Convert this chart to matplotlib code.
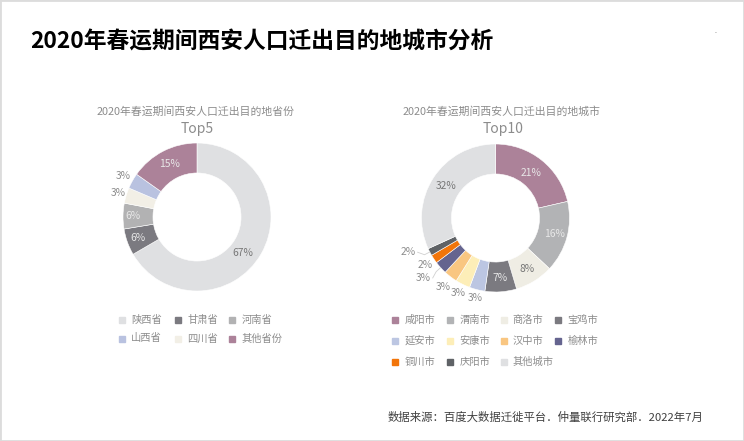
import matplotlib
matplotlib.use('Agg')
import numpy as np
import matplotlib.pyplot as plt
from matplotlib.patches import Rectangle

plt.rcParams['font.family'] = ['Noto Sans CJK SC', 'DejaVu Sans']

W, H = 744, 441

prov_names = ['陕西省', '甘肃省', '河南省', '山西省', '四川省', '其他省份']
prov_vals = [66.6, 5.8, 5.6, 3.4, 3.4, 15.2]
prov_colors = ['#dfe0e2', '#7b7a80', '#b2b2b3', '#b9c2e0', '#f2efe6', '#ac8299']
prov_pie_order = [0, 1, 2, 4, 3, 5]

city_names = ['咸阳市', '渭南市', '商洛市', '宝鸡市', '延安市', '安康市',
              '汉中市', '榆林市', '铜川市', '庆阳市', '其他城市']
city_vals = [21.4, 15.6, 8.4, 6.9, 3.4, 3.2, 3.0, 2.8, 1.9, 1.6, 31.8]
city_colors = ['#ac8299', '#b2b3b5', '#efede4', '#7b7a80', '#bcc6e2', '#fdeeb8',
               '#f9c681', '#65648f', '#f2750a', '#5f6266', '#dfe0e2']

GREY = '#8c8c8c'
LIGHT = '#e8e8e8'
R = 74.0
HALF = 100.0


def donut(cx, cy, vals, colors, label_r, label_shift, label_colors, leaders=()):
    # axes is placed in pixels, one data unit = R pixels
    ax = fig.add_axes([(cx - HALF) / W, 1 - (cy + HALF) / H, 2 * HALF / W, 2 * HALF / H])
    wedges, _ = ax.pie(vals, colors=colors, startangle=90, counterclock=False, radius=1,
                       wedgeprops=dict(width=0.405, edgecolor='white', linewidth=0.4))
    ax.set_xlim(-HALF / R, HALF / R)
    ax.set_ylim(-HALF / R, HALF / R)
    ax.axis('off')
    for i, (w, v) in enumerate(zip(wedges, vals)):
        mid = (w.theta1 + w.theta2) / 2
        a = np.deg2rad(mid - label_shift[i])
        x, y = label_r[i] * np.cos(a), label_r[i] * np.sin(a)
        ax.text(x, y, '%d%%' % round(v), color=label_colors[i], fontsize=7.4,
                ha='center', va='center', clip_on=False)
        if i in leaders:
            m = np.deg2rad(mid)
            ax.plot([np.cos(m), 1.08 * np.cos(m), x + 0.13],
                    [np.sin(m), 1.08 * np.sin(m), y],
                    color='#d0d0d0', lw=0.6, clip_on=False)
    return wedges


def legend(names, colors, xs, ys):
    # grid of square marker + name, filled row by row
    for i, (name, c) in enumerate(zip(names, colors)):
        x = xs[i % len(xs)]
        y = ys[i // len(xs)]
        over.plot([x], [y], ls='', marker='s', ms=4.0, color=c)
        over.text(x + 9.3, y, name, fontsize=7.4, color=GREY, ha='left', va='center')


fig = plt.figure(figsize=(W / 100, H / 100), dpi=100, facecolor='white')

over = fig.add_axes([0, 0, 1, 1])
over.set_xlim(0, W)
over.set_ylim(H, 0)
over.axis('off')

# Left donut
donut(197, 217, [prov_vals[i] for i in prov_pie_order], [prov_colors[i] for i in prov_pie_order],
      [0.79, 0.85, 0.865, 1.116, 1.136, 0.81],
      [8, 0, 0, 0, 0, 0],
      ['#777777', LIGHT, LIGHT, GREY, GREY, LIGHT])
legend(prov_names, prov_colors, [122, 178, 232], [320, 338.5])

# Right donut
donut(495.5, 218, city_vals, city_colors,
      [0.77, 0.83, 0.81, 0.81, 1.116, 1.127, 1.17, 1.27, 1.136, 1.27, 0.8],
      [0, 0, 0, 0, 0, 0, 0, 2.5, 0, 6, 0],
      [LIGHT, LIGHT, '#777777', LIGHT, GREY, GREY, GREY, GREY, GREY, GREY, '#777777'],
      leaders=(7, 9))
legend(city_names, city_colors, [395, 450, 503.5, 558], [320, 341, 362])

# Titles and source
over.text(30, 42, '2020年春运期间西安人口迁出目的地城市分析', fontsize=16.4,
          fontweight='bold', color='black', va='center', ha='left')
over.text(195.5, 112, '2020年春运期间西安人口迁出目的地省份', fontsize=7.8,
          color=GREY, ha='center', va='center')
over.text(197, 129.5, 'Top5', fontsize=10, color=GREY, ha='center', va='center')
over.text(501.5, 112, '2020年春运期间西安人口迁出目的地城市', fontsize=7.8,
          color=GREY, ha='center', va='center')
over.text(503, 128.5, 'Top10', fontsize=10, color=GREY, ha='center', va='center')
over.text(388, 417, '数据来源：百度大数据迁徙平台．仲量联行研究部．2022年7月', fontsize=8.2,
          color='#404040', ha='left', va='center')
over.text(715, 31, '.', fontsize=5, color='#777777', ha='center', va='center')

# thin frame around the slide
fig.add_artist(Rectangle((0, 0), 1, 1, transform=fig.transFigure, fill=False,
                         edgecolor='#dcdcdc', linewidth=2))

fig.savefig('out.png', dpi=100)
